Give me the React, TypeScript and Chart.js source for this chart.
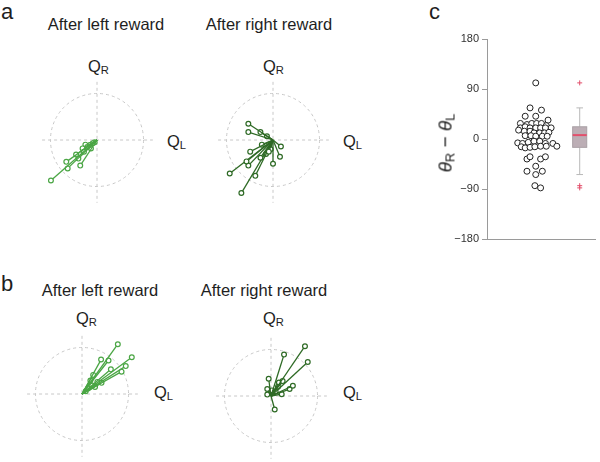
import React, { useEffect, useRef } from 'react';
import { Chart, registerables } from 'chart.js';

Chart.register(...registerables);

const FONT = "'Liberation Sans', Arial, Helvetica, sans-serif";
const LIGHT = '#4ba645';
const DARK = '#2e6a25';

// Panel a, after left reward (Q_L, Q_R end points)
const aLeftX = [-0.99, -0.66, -0.63, -0.36, -0.45, -0.28, -0.31, -0.21, -0.15, -0.09, -0.25, -0.13, -0.40, -0.05];
const aLeftY = [-0.87, -0.47, -0.61, -0.55, -0.31, -0.25, -0.18, -0.15, -0.11, -0.07, -0.10, -0.18, -0.40, -0.05];
// Panel a, after right reward
const aRightX = [-0.53, -0.53, -0.27, -0.13, 0.17, 0.15, 0.0, -0.49, -0.24, -0.09, -0.27, -0.57, -0.53, -0.93, -0.38, -0.68, -0.15, -0.05];
const aRightY = [0.35, 0.17, 0.17, 0.08, -0.14, -0.36, -0.51, -0.25, -0.10, -0.25, -0.38, -0.46, -0.55, -0.72, -0.77, -1.14, -0.30, -0.20];
// Panel b, after left reward
const bLeftX = [0.77, 1.07, 0.41, 0.57, 0.94, 0.62, 0.85, 0.24, 0.42, 0.33, 0.18, 0.22, 0.13, 0.08, 0.28];
const bLeftY = [1.07, 0.79, 0.74, 0.72, 0.60, 0.53, 0.48, 0.41, 0.24, 0.26, 0.29, 0.18, 0.12, 0.06, 0.15];
// Panel b, after right reward
const bRightX = [0.73, 0.28, 0.79, 0.47, 0.40, 0.25, 0.17, -0.05, -0.08, -0.08, 0.23, 0.08, 0.10, 0.15, 0.02];
const bRightY = [1.07, 0.89, 0.73, 0.22, 0.15, 0.32, 0.29, 0.37, 0.15, 0.03, 0.04, -0.29, 0.10, 0.20, 0.12];

// Panel c: theta_R - theta_L per session (degrees) and swarm jitter
const swarmValues = [101, 56, 52, 41, 41, 34, 28, 26, 28, 28, 28, 24, 20, 20, 22, 20, 20, 20, 20, 16, 14, 14, 11, 11, 11, 12, 6, 6, 5, 5, 5, -7, -8, -6, -4, -4, -8, -8, -13, -14, -16, -15, -14, -13, -13, -36, -32, -36, -32, -49, -58, -58, -64, -84, -88];
const swarmJitter = [0, -0.13, 0.13, -0.24, 0, 0.28, -0.35, -0.2, -0.09, 0.02, 0.13, 0.24, 0.35, -0.35, -0.24, -0.13, 0, 0.11, 0.22, -0.39, -0.26, -0.13, -0.04, 0.09, 0.2, 0.3, -0.24, -0.11, 0, 0.15, 0.26, -0.41, -0.3, -0.17, -0.04, 0.09, 0.22, 0.39, 0.48, -0.33, -0.24, -0.13, -0.02, 0.11, 0.24, -0.2, -0.13, 0.11, 0.22, 0, -0.2, 0.15, 0, -0.02, 0.11];
const boxStats = { q1: -15, median: 7, q3: 22, whiskerLow: -64, whiskerHigh: 56 };
const outliers = [101, -84, -88];
const yTicks = [-180, -90, 0, 90, 180];

function fmtTick(v: number) {
  return v < 0 ? '\u2212' + Math.abs(v) : String(v);
}

function VectorPanel({ xs, ys, color, left, top }: { xs: number[]; ys: number[]; color: string; left: number; top: number }) {
  const ref = useRef<HTMLCanvasElement | null>(null);
  useEffect(() => {
    const datasets = xs.map((x, i) => ({
      data: [{ x: 0, y: 0 }, { x, y: ys[i] }],
      showLine: true,
      borderColor: color,
      borderWidth: 1.3,
      pointRadius: [0, 2.4],
      pointBorderWidth: 1.2,
      pointBackgroundColor: '#ffffff',
      pointBorderColor: color,
    }));
    const guide = {
      id: 'guide',
      beforeDatasetsDraw(chart: any) {
        const { ctx, scales } = chart;
        const x = scales.x, y = scales.y;
        const cx = x.getPixelForValue(0), cy = y.getPixelForValue(0);
        const r = x.getPixelForValue(1) - cx;
        ctx.save();
        ctx.strokeStyle = '#c8c8c8';
        ctx.lineWidth = 1;
        ctx.setLineDash([3, 3]);
        ctx.beginPath();
        ctx.arc(cx, cy, r, 0, Math.PI * 2);
        ctx.stroke();
        ctx.beginPath();
        ctx.moveTo(x.getPixelForValue(-1.18), cy);
        ctx.lineTo(x.getPixelForValue(1.2), cy);
        ctx.moveTo(cx, y.getPixelForValue(1.25));
        ctx.lineTo(cx, y.getPixelForValue(-1.35));
        ctx.stroke();
        ctx.restore();
      },
    };
    const chart = new Chart(ref.current as HTMLCanvasElement, {
      type: 'scatter',
      data: { datasets: datasets as any },
      options: {
        animation: false,
        responsive: false,
        events: [],
        layout: { padding: 0 },
        plugins: { legend: { display: false }, tooltip: { enabled: false } },
        scales: {
          x: { display: false, min: -1.5, max: 1.5 },
          y: { display: false, min: -1.5, max: 1.5 },
        },
      } as any,
      plugins: [guide],
    });
    return () => chart.destroy();
  }, []);
  return <canvas ref={ref} width={150} height={150} style={{ position: 'absolute', left, top, width: 150, height: 150 }} />;
}

function SwarmPanel() {
  const ref = useRef<HTMLCanvasElement | null>(null);
  useEffect(() => {
    const boxPlugin = {
      id: 'box',
      beforeDatasetsDraw(chart: any) {
        const { ctx, scales } = chart;
        const x = scales.x, y = scales.y;
        const cx = x.getPixelForValue(1);
        const half = (x.getPixelForValue(1.16) - x.getPixelForValue(1)) ;
        const cap = (x.getPixelForValue(1.075) - x.getPixelForValue(1));
        ctx.save();
        ctx.strokeStyle = '#b8b8b8';
        ctx.lineWidth = 1;
        ctx.beginPath();
        ctx.moveTo(cx, y.getPixelForValue(boxStats.q3));
        ctx.lineTo(cx, y.getPixelForValue(boxStats.whiskerHigh));
        ctx.moveTo(cx - cap, y.getPixelForValue(boxStats.whiskerHigh));
        ctx.lineTo(cx + cap, y.getPixelForValue(boxStats.whiskerHigh));
        ctx.moveTo(cx, y.getPixelForValue(boxStats.q1));
        ctx.lineTo(cx, y.getPixelForValue(boxStats.whiskerLow));
        ctx.moveTo(cx - cap, y.getPixelForValue(boxStats.whiskerLow));
        ctx.lineTo(cx + cap, y.getPixelForValue(boxStats.whiskerLow));
        ctx.stroke();
        const top = y.getPixelForValue(boxStats.q3);
        const bot = y.getPixelForValue(boxStats.q1);
        ctx.fillStyle = '#bcaeb5';
        ctx.fillRect(cx - half, top, half * 2, bot - top);
        ctx.strokeStyle = '#a9a0a5';
        ctx.strokeRect(cx - half, top, half * 2, bot - top);
        ctx.strokeStyle = '#e2506c';
        ctx.lineWidth = 2;
        ctx.beginPath();
        const my = y.getPixelForValue(boxStats.median);
        ctx.moveTo(cx - half, my);
        ctx.lineTo(cx + half, my);
        ctx.stroke();
        ctx.restore();
      },
    };
    const chart = new Chart(ref.current as HTMLCanvasElement, {
      type: 'scatter',
      data: {
        datasets: [
          {
            data: swarmValues.map((v, i) => ({ x: swarmJitter[i], y: v })),
            pointRadius: 3,
            pointBorderWidth: 1,
            pointBorderColor: '#222222',
            pointBackgroundColor: '#ffffff',
          },
          {
            data: outliers.map((v) => ({ x: 1, y: v })),
            pointStyle: 'cross',
            pointRadius: 2.5,
            pointBorderWidth: 1,
            pointBorderColor: '#e2506c',
          },
        ] as any,
      },
      options: {
        animation: false,
        responsive: false,
        events: [],
        layout: { padding: { top: 19, bottom: 11, left: 0, right: 0 } },
        plugins: { legend: { display: false }, tooltip: { enabled: false } },
        scales: {
          x: {
            min: -1.109,
            max: 1.348,
            grid: { display: false, drawTicks: false },
            ticks: { display: false },
            border: { display: true, color: '#9a9a9a' },
            afterFit: (s: any) => { s.height = 0; },
          },
          y: {
            min: -180,
            max: 180,
            afterBuildTicks: (s: any) => { s.ticks = yTicks.map((v) => ({ value: v })); },
            ticks: { callback: (v: any) => fmtTick(Number(v)), font: { family: FONT, size: 11 }, color: '#333333', padding: 3 },
            grid: { display: true, drawOnChartArea: false, drawTicks: true, tickLength: 5, color: '#9a9a9a' },
            border: { display: true, color: '#9a9a9a' },
            afterFit: (s: any) => { s.width = 47; },
          },
        },
      } as any,
      plugins: [boxPlugin],
    });
    return () => chart.destroy();
  }, []);
  return <canvas ref={ref} width={160} height={230} style={{ position: 'absolute', left: 440, top: 20, width: 160, height: 230 }} />;
}

function Txt({ x, y, size, center, children }: { x: number; y: number; size: number; center?: boolean; children: any }) {
  return (
    <div
      style={{
        position: 'absolute',
        left: x,
        top: y - 0.85 * size,
        fontSize: size,
        lineHeight: 1,
        fontFamily: FONT,
        color: '#1e1e1e',
        whiteSpace: 'nowrap',
        transform: center ? 'translateX(-50%)' : undefined,
      }}
    >
      {children}
    </div>
  );
}

const sub = { fontSize: '0.68em', position: 'relative' as const, top: '0.22em' };

function Q({ x, y, s }: { x: number; y: number; s: string }) {
  return (
    <Txt x={x} y={y} size={16.5}>
      Q<span style={sub}>{s}</span>
    </Txt>
  );
}

export default function App() {
  return (
    <div style={{ position: 'fixed', left: 0, top: 0, width: 600, height: 462, overflow: 'hidden', background: '#ffffff' }}>
      <Txt x={1} y={20} size={22}>a</Txt>
      <Txt x={106} y={30} size={16.5} center>After left reward</Txt>
      <Txt x={269} y={30} size={16.5} center>After right reward</Txt>
      <Q x={88} y={72} s="R" />
      <Q x={167} y={147} s="L" />
      <Q x={263} y={72} s="R" />
      <Q x={343} y={147} s="L" />
      <VectorPanel xs={aLeftX} ys={aLeftY} color={LIGHT} left={22} top={65} />
      <VectorPanel xs={aRightX} ys={aRightY} color={DARK} left={198} top={65} />

      <Txt x={1} y={292} size={22}>b</Txt>
      <Txt x={100} y={296} size={16.5} center>After left reward</Txt>
      <Txt x={264} y={296} size={16.5} center>After right reward</Txt>
      <Q x={76} y={324} s="R" />
      <Q x={154} y={398} s="L" />
      <Q x={263} y={324} s="R" />
      <Q x={343} y={398} s="L" />
      <VectorPanel xs={bLeftX} ys={bLeftY} color={LIGHT} left={7} top={319} />
      <VectorPanel xs={bRightX} ys={bRightY} color={DARK} left={196} top={321} />

      <Txt x={429} y={20} size={22}>c</Txt>
      <SwarmPanel />
      <div
        style={{
          position: 'absolute',
          left: 445,
          top: 143,
          transform: 'translate(-50%, -50%) rotate(-90deg)',
          fontFamily: FONT,
          fontSize: 19,
          lineHeight: 1,
          whiteSpace: 'nowrap',
          color: '#1e1e1e',
        }}
      >
        <i>θ</i><span style={sub}>R</span> − <i>θ</i><span style={sub}>L</span>
      </div>
    </div>
  );
}
